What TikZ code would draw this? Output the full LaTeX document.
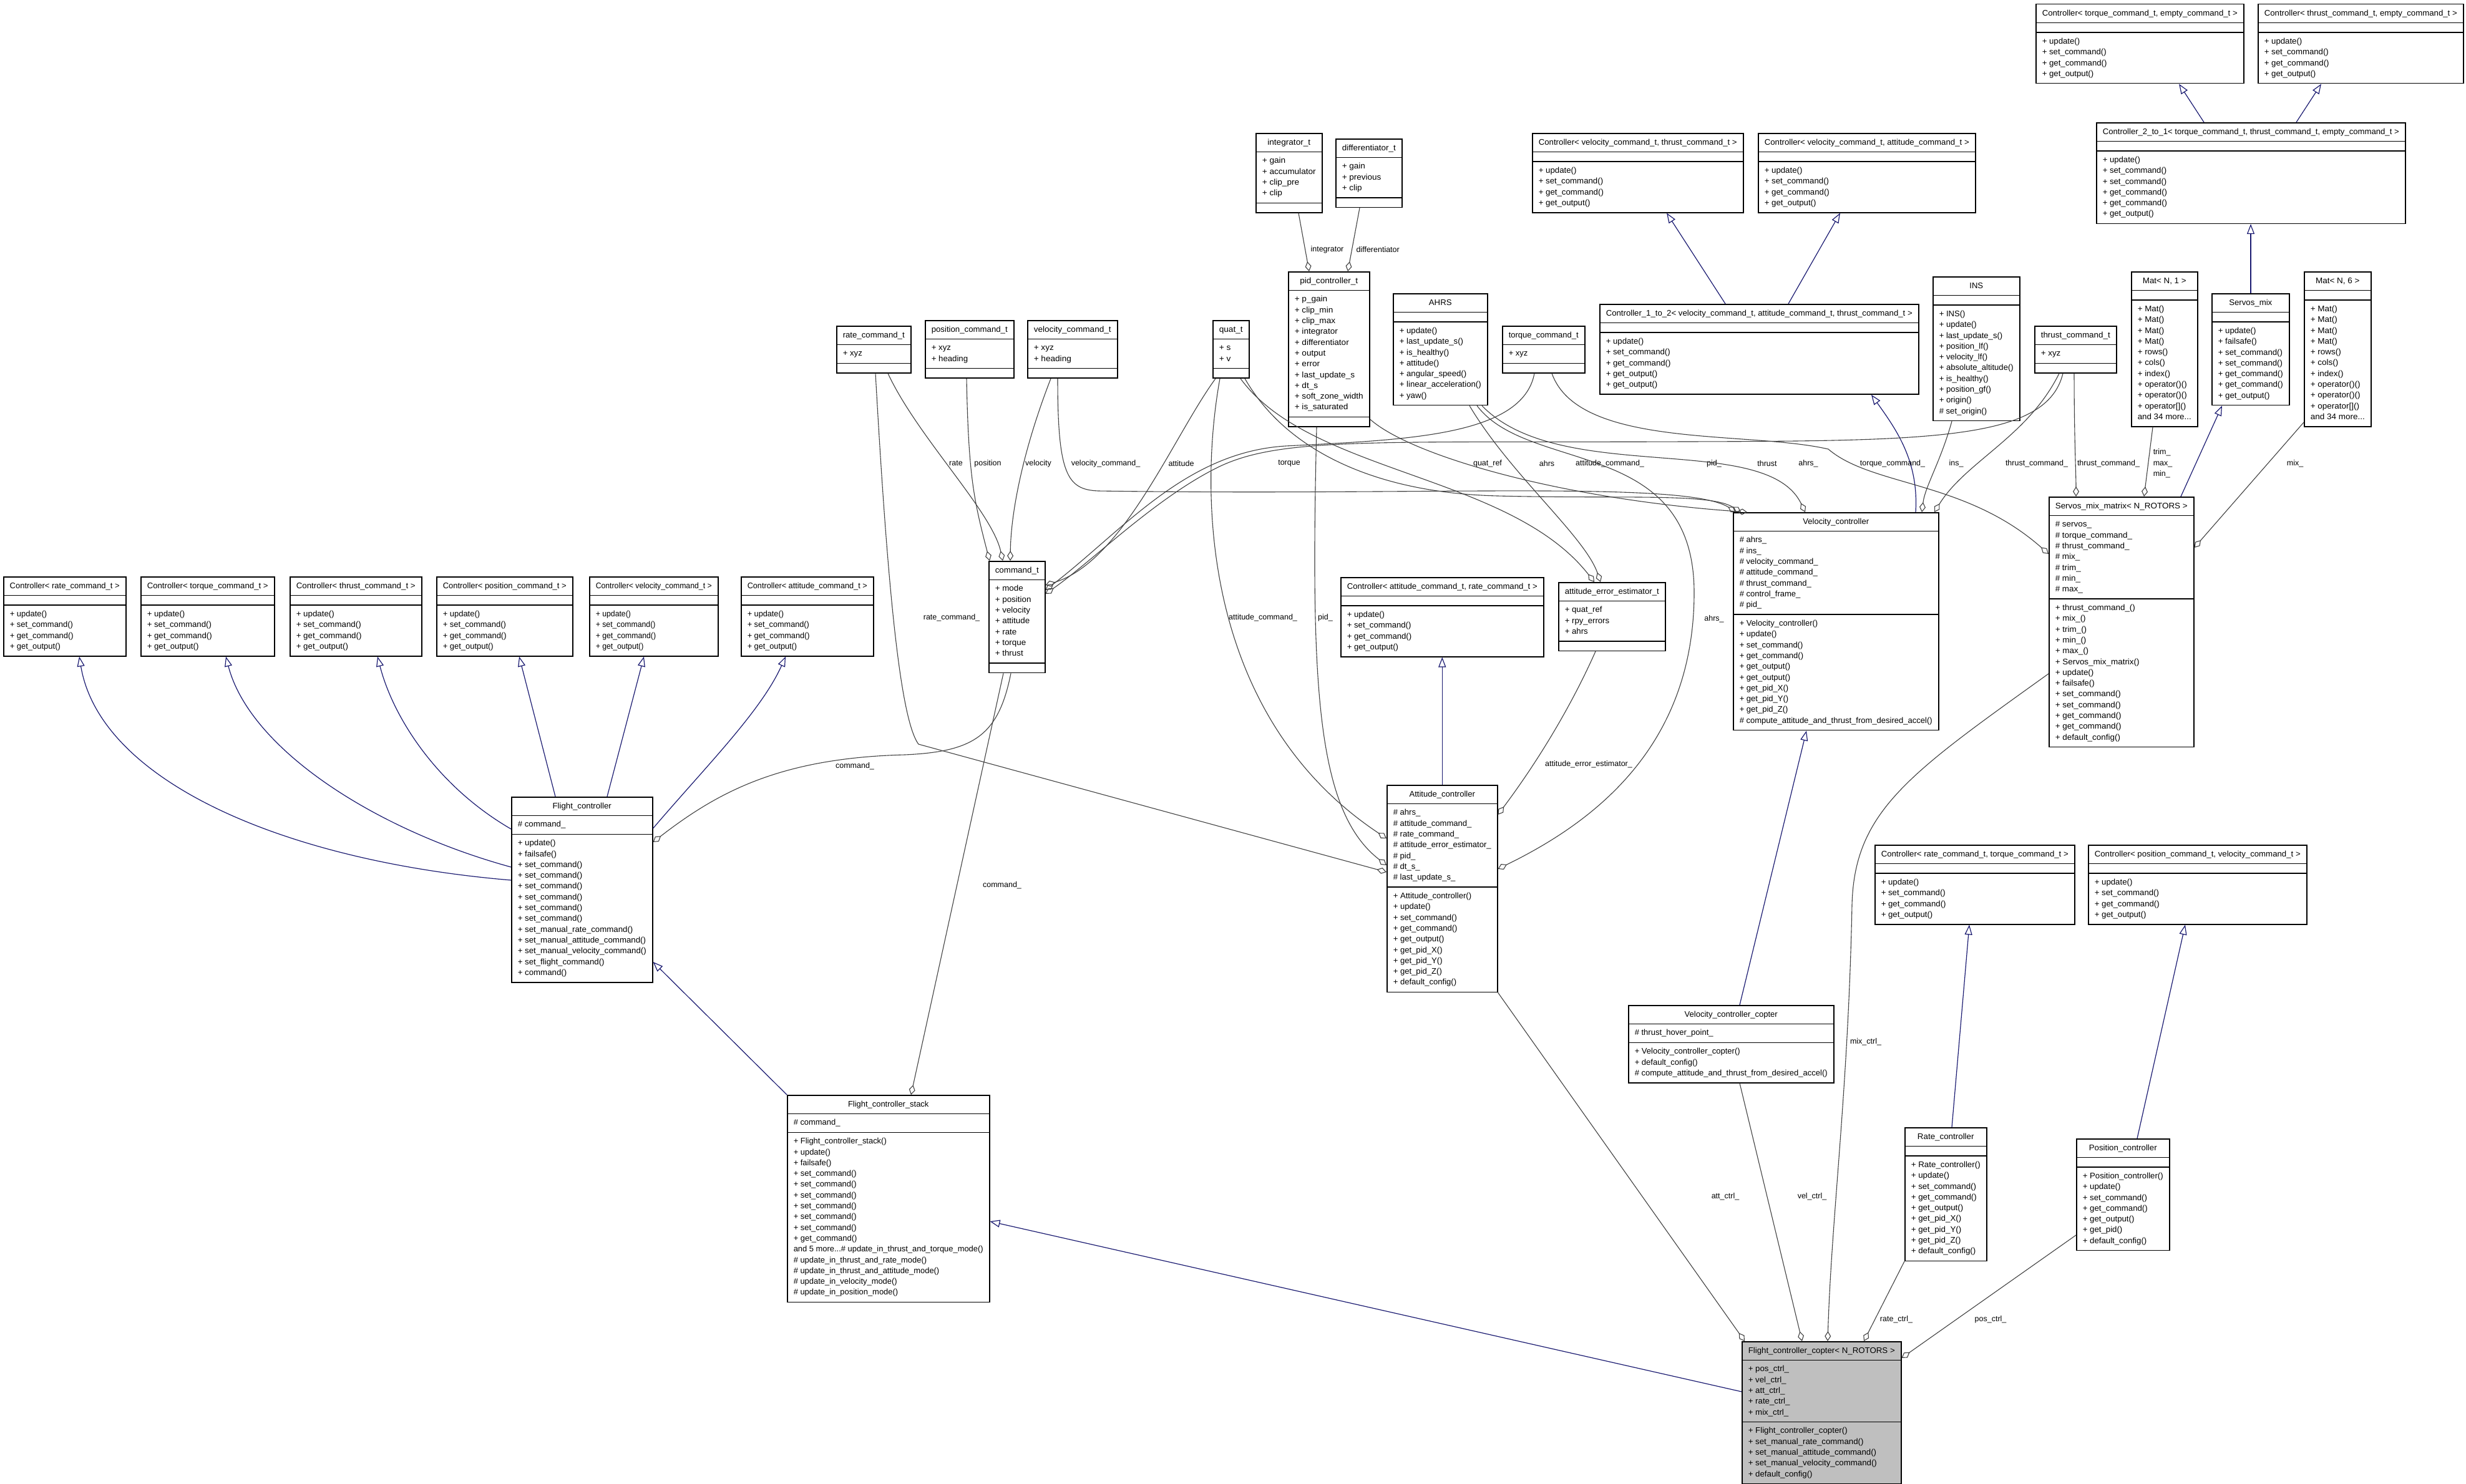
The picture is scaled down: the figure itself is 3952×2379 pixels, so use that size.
\documentclass[tikz,border=0pt]{standalone}
\usepackage{fontspec,graphicx}
\usetikzlibrary{arrows.meta,shapes.multipart}
\newfontfamily\dxfont{Liberation Sans}
\definecolor{dxblue}{HTML}{191970}
\definecolor{dxgray}{HTML}{404040}
\definecolor{dxfill}{HTML}{BFBFBF}
\newcommand\clsfont{\dxfont\fontsize{13}{17.3}\selectfont}
\newcommand\lblfont{\dxfont\fontsize{12.5}{17.5}\selectfont}
\renewcommand\arraystretch{1}
\newlength\clsw
% squeeze factor of one box, measured inside the node
\newcommand\clsfit[2]{%
  \setbox0\hbox{\begin{tabular}{@{}l@{}}#2\end{tabular}}%
  \global\clsw=\wd0
  \pgfmathsetmacro\clstmp{min(1.1,(#1-20)/max(\clsw,20))}%
  \global\let\clssx\clstmp}
% one compartment of a class box
\newcommand\clspart[3]{\makebox[#1pt][#2]{\hspace*{10pt}\scalebox{\clssx}[1]{\begin{tabular}{@{}#2@{}}#3\end{tabular}}\hspace*{10pt}}}
% [style]{name}{x}{y}{width}{title}{attributes}{methods}
\newcommand\cls[8][]{%
  \node[cls,#1] (#2) at (#3,#4)
    {\clsfit{#5}{#6\\#7\\#8}\clspart{#5}{c}{#6}\nodepart{two}\clspart{#5}{l}{#7}\nodepart{three}\clspart{#5}{l}{#8}};}
\begin{document}
\catcode`\_=12
\begin{tikzpicture}[x=1pt,y=-1pt,
  cls/.style={rectangle split,rectangle split parts=3,draw=black,line width=1.5pt,
    fill=white,inner xsep=0pt,inner ysep=5.5pt,font=\clsfont,anchor=north west},
  inh/.style={draw=dxblue,line width=1.2pt,-{Triangle[open,length=16pt,width=12pt]}},
  agg/.style={draw=dxgray,line width=1.1pt,-{Diamond[open,length=16pt,width=10pt]}},
  lbl/.style={font=\lblfont,inner sep=1pt,align=left}]
\useasboundingbox (0,0) rectangle (3952,2379);
\def\ctlm{+ update()\\+ set_command()\\+ get_command()\\+ get_output()}
% template bases
\cls{crate}{5}{924}{196}{Controller< rate_command_t >}{}{\ctlm}
\cls{ctorq}{225}{924}{214}{Controller< torque_command_t >}{}{\ctlm}
\cls{cthr}{464}{924}{211}{Controller< thrust_command_t >}{}{\ctlm}
\cls{cpos}{699}{924}{218}{Controller< position_command_t >}{}{\ctlm}
\cls{cvel}{944}{924}{206}{Controller< velocity_command_t >}{}{\ctlm}
\cls{catt}{1187}{924}{212}{Controller< attitude_command_t >}{}{\ctlm}
\cls{ctorqempty}{3262}{6}{333}{Controller< torque_command_t, empty_command_t >}{}{\ctlm}
\cls{cthrempty}{3618}{6}{329}{Controller< thrust_command_t, empty_command_t >}{}{\ctlm}
\cls{ctwo}{3359}{196}{495}{Controller_2_to_1< torque_command_t, thrust_command_t, empty_command_t >}{}
  {+ update()\\+ set_command()\\+ set_command()\\+ get_command()\\+ get_command()\\+ get_output()}
\cls{cvelthr}{2455}{213}{338}{Controller< velocity_command_t, thrust_command_t >}{}{\ctlm}
\cls{cvelatt}{2817}{213}{348}{Controller< velocity_command_t, attitude_command_t >}{}{\ctlm}
\cls{cone}{2563}{487}{511}{Controller_1_to_2< velocity_command_t, attitude_command_t, thrust_command_t >}{}
  {+ update()\\+ set_command()\\+ get_command()\\+ get_output()\\+ get_output()}
\cls{cattrate}{2148}{925}{325}{Controller< attitude_command_t, rate_command_t >}{}{\ctlm}
\cls{cratetorq}{3004}{1354}{320}{Controller< rate_command_t, torque_command_t >}{}{\ctlm}
\cls{cposvel}{3346}{1354}{350}{Controller< position_command_t, velocity_command_t >}{}{\ctlm}
% plain data types
\cls{ratecmd}{1340}{522}{119}{rate_command_t}{+ xyz}{}
\cls{poscmd}{1482}{513}{142}{position_command_t}{+ xyz\\+ heading}{}
\cls{velcmd}{1646}{513}{144}{velocity_command_t}{+ xyz\\+ heading}{}
\cls{quat}{1943}{513}{58}{quat_t}{+ s\\+ v}{}
\cls{integ}{2012}{213}{106}{integrator_t}{+ gain\\+ accumulator\\+ clip_pre\\+ clip}{}
\cls{diff}{2140}{222}{106}{differentiator_t}{+ gain\\+ previous\\+ clip}{}
\cls{pid}{2064}{435}{130}{pid_controller_t}{+ p_gain\\+ clip_min\\+ clip_max\\+ integrator\\+ differentiator\\+ output\\+ error\\+ last_update_s\\+ dt_s\\+ soft_zone_width\\+ is_saturated}{}
\cls{ahrs}{2232}{470}{151}{AHRS}{}{+ update()\\+ last_update_s()\\+ is_healthy()\\+ attitude()\\+ angular_speed()\\+ linear_acceleration()\\+ yaw()}
\cls{torqcmd}{2407}{522}{132}{torque_command_t}{+ xyz}{}
\cls{ins}{3097}{443}{139}{INS}{}{+ INS()\\+ update()\\+ last_update_s()\\+ position_lf()\\+ velocity_lf()\\+ absolute_altitude()\\+ is_healthy()\\+ position_gf()\\+ origin()\\\# set_origin()}
\cls{thrcmd}{3260}{522}{131}{thrust_command_t}{+ xyz}{}
\cls{matone}{3415}{435}{106}{Mat< N, 1 >}{}{+ Mat()\\+ Mat()\\+ Mat()\\+ Mat()\\+ rows()\\+ cols()\\+ index()\\+ operator()()\\+ operator()()\\+ operator[]()\\and 34 more...}
\cls{smix}{3544}{470}{124}{Servos_mix}{}{+ update()\\+ failsafe()\\+ set_command()\\+ set_command()\\+ get_command()\\+ get_command()\\+ get_output()}
\cls{matsix}{3692}{435}{107}{Mat< N, 6 >}{}{+ Mat()\\+ Mat()\\+ Mat()\\+ Mat()\\+ rows()\\+ cols()\\+ index()\\+ operator()()\\+ operator()()\\+ operator[]()\\and 34 more...}
\cls{cmdt}{1584}{899}{90}{command_t}{+ mode\\+ position\\+ velocity\\+ attitude\\+ rate\\+ torque\\+ thrust}{}
\cls{aee}{2497}{933}{171}{attitude_error_estimator_t}{+ quat_ref\\+ rpy_errors\\+ ahrs}{}
% controllers
\cls{velctl}{2777}{821}{329}{Velocity_controller}
  {\# ahrs_\\\# ins_\\\# velocity_command_\\\# attitude_command_\\\# thrust_command_\\\# control_frame_\\\# pid_}
  {+ Velocity_controller()\\+ update()\\+ set_command()\\+ get_command()\\+ get_output()\\+ get_output()\\+ get_pid_X()\\+ get_pid_Y()\\+ get_pid_Z()\\\# compute_attitude_and_thrust_from_desired_accel()}
\cls{smm}{3283}{796}{232}{Servos_mix_matrix< N_ROTORS >}
  {\# servos_\\\# torque_command_\\\# thrust_command_\\\# mix_\\\# trim_\\\# min_\\\# max_}
  {+ thrust_command_()\\+ mix_()\\+ trim_()\\+ min_()\\+ max_()\\+ Servos_mix_matrix()\\+ update()\\+ failsafe()\\+ set_command()\\+ set_command()\\+ get_command()\\+ get_command()\\+ default_config()}
\cls{attctl}{2222}{1258}{177}{Attitude_controller}
  {\# ahrs_\\\# attitude_command_\\\# rate_command_\\\# attitude_error_estimator_\\\# pid_\\\# dt_s_\\\# last_update_s_}
  {+ Attitude_controller()\\+ update()\\+ set_command()\\+ get_command()\\+ get_output()\\+ get_pid_X()\\+ get_pid_Y()\\+ get_pid_Z()\\+ default_config()}
\cls{fc}{819}{1277}{226}{Flight_controller}{\# command_}
  {+ update()\\+ failsafe()\\+ set_command()\\+ set_command()\\+ set_command()\\+ set_command()\\+ set_command()\\+ set_command()\\+ set_manual_rate_command()\\+ set_manual_attitude_command()\\+ set_manual_velocity_command()\\+ set_flight_command()\\+ command()}
\cls{velcop}{2609}{1611}{329}{Velocity_controller_copter}{\# thrust_hover_point_}
  {+ Velocity_controller_copter()\\+ default_config()\\\# compute_attitude_and_thrust_from_desired_accel()}
\cls{ratectl}{3052}{1807}{131}{Rate_controller}{}
  {+ Rate_controller()\\+ update()\\+ set_command()\\+ get_command()\\+ get_output()\\+ get_pid_X()\\+ get_pid_Y()\\+ get_pid_Z()\\+ default_config()}
\cls{posctl}{3327}{1825}{149}{Position_controller}{}
  {+ Position_controller()\\+ update()\\+ set_command()\\+ get_command()\\+ get_output()\\+ get_pid()\\+ default_config()}
\cls{fcs}{1261}{1755}{324}{Flight_controller_stack}{\# command_}
  {+ Flight_controller_stack()\\+ update()\\+ failsafe()\\+ set_command()\\+ set_command()\\+ set_command()\\+ set_command()\\+ set_command()\\+ set_command()\\+ get_command()\\and 5 more...\# update_in_thrust_and_torque_mode()\\\# update_in_thrust_and_rate_mode()\\\# update_in_thrust_and_attitude_mode()\\\# update_in_velocity_mode()\\\# update_in_position_mode()}
\cls[fill=dxfill]{fcc}{2791}{2150}{255}{Flight_controller_copter< N_ROTORS >}
  {+ pos_ctrl_\\+ vel_ctrl_\\+ att_ctrl_\\+ rate_ctrl_\\+ mix_ctrl_}
  {+ Flight_controller_copter()\\+ set_manual_rate_command()\\+ set_manual_attitude_command()\\+ set_manual_velocity_command()\\+ default_config()}
% inheritance
\draw[inh] (3532,0 |- ctwo.north) -- (3492,0 |- ctorqempty.south);
\draw[inh] (3680,0 |- ctwo.north) -- (3720,0 |- cthrempty.south);
\draw[inh] (3607,0 |- smix.north) -- (3607,0 |- ctwo.south);
\draw[inh] (3495,0 |- smm.north) -- (3561,0 |- smix.south);
\draw[inh] (2765,0 |- cone.north) -- (2671,0 |- cvelthr.south);
\draw[inh] (2866,0 |- cone.north) -- (2949,0 |- cvelatt.south);
\draw[inh] (3070,0 |- velctl.north) .. controls (3075,740) and (3040,690) .. (2999,0 |- cone.south);
\draw[inh] (2788,0 |- velcop.north) -- (2895,0 |- velctl.south);
\draw[inh] (3128,0 |- ratectl.north) -- (3156,0 |- cratetorq.south);
\draw[inh] (3425,0 |- posctl.north) -- (3502,0 |- cposvel.south);
\draw[inh] (attctl.north) -- (attctl.north |- cattrate.south);
\draw[inh] (fcc.west |- 0,2231) -- (fcs.east |- 0,1958);
\draw[inh] (fcs.north west) -- (fc.east |- 0,1542);
\draw[inh] (890,0 |- fc.north) -- (832,0 |- cpos.south);
\draw[inh] (973,0 |- fc.north) -- (1032,0 |- cvel.south);
\draw[inh] (fc.east |- 0,1328) .. controls (1130,1230) and (1220,1140) .. (1259,0 |- catt.south);
\draw[inh] (fc.west |- 0,1329) .. controls (700,1260) and (630,1150) .. (605,0 |- cthr.south);
\draw[inh] (fc.west |- 0,1390) .. controls (600,1330) and (400,1200) .. (362,0 |- ctorq.south);
\draw[inh] (fc.west |- 0,1411) .. controls (450,1380) and (160,1250) .. (127,0 |- crate.south);
% members
\draw[agg] (2081,0 |- integ.south) -- (2098,0 |- pid.north) node[lbl,anchor=west] (lint) at (2099,400) {integrator};
\draw[agg] (2179,0 |- diff.south) -- (2160,0 |- pid.north) node[lbl,anchor=west] (ldif) at (2172,400) {differentiator};
\draw[agg] (1423,0 |- ratecmd.south) .. controls (1470,700) and (1590,820) .. (1607,0 |- cmdt.north) node[lbl] (lrate) at (1532,743) {rate};
\draw[agg] (1549,0 |- poscmd.south) .. controls (1552,760) and (1560,800) .. (1586,0 |- cmdt.north) node[lbl] (lpos) at (1583,743) {position};
\draw[agg] (1684,0 |- velcmd.south) .. controls (1640,720) and (1620,820) .. (1619,0 |- cmdt.north) node[lbl] (lvel) at (1664,743) {velocity};
\draw[agg] (1695,0 |- velcmd.south) .. controls (1695,760) and (1710,785) .. (1760,787) .. controls (2300,795) and (2700,770) .. (2783,0 |- velctl.north) node[lbl] (lvcmd) at (1772,743) {velocity_command_};
\draw[agg] (1948,0 |- quat.south) .. controls (1880,700) and (1800,900) .. (cmdt.east |- 0,938) node[lbl] (latt) at (1893,743) {attitude};
\draw[agg] (2459,0 |- torqcmd.south) .. controls (2440,700) and (2250,705) .. (2060,715) .. controls (1900,725) and (1800,850) .. (cmdt.east |- 0,946) node[lbl] (ltorq) at (2066,743) {torque};
\draw[agg] (3306,0 |- thrcmd.south) .. controls (3280,705) and (3100,707) .. (2700,708) .. controls (2200,710) and (2050,700) .. (1950,750) .. controls (1850,800) and (1750,900) .. (cmdt.east |- 0,952) node[lbl] (lthr) at (2832,743) {thrust};
\draw[agg] (1995,0 |- quat.south) .. controls (2060,720) and (2200,790) .. (2400,795) .. controls (2600,800) and (2740,790) .. (2790,0 |- velctl.north) node[lbl] (lacmd) at (2580,743) {attitude_command_};
\draw[agg] (pid.east |- 0,672) .. controls (2260,730) and (2500,800) .. (2800,0 |- velctl.north) node[lbl] (lpid) at (2747,743) {pid_};
\draw[agg] (2375,0 |- ahrs.south) .. controls (2500,780) and (2830,690) .. (2893,0 |- velctl.north) node[lbl] (lvahrs) at (2898,743) {ahrs_};
\draw[agg] (3128,0 |- ins.south) .. controls (3110,740) and (3085,780) .. (3080,0 |- velctl.north) node[lbl] (lins) at (3135,743) {ins_};
\draw[agg] (3300,0 |- thrcmd.south) .. controls (3250,700) and (3150,740) .. (3100,0 |- velctl.north) node[lbl] (lvthr) at (3264,743) {thrust_command_};
\draw[agg] (3324,0 |- thrcmd.south) .. controls (3324,700) and (3327,760) .. (3327,0 |- smm.north) node[lbl] (lsthr) at (3379,743) {thrust_command_};
\draw[agg] (3450,0 |- matone.south) -- (3436,0 |- smm.north) node[lbl] (ltrim) at (3466,743) {trim_\\max_\\min_};
\draw[agg] (2487,0 |- torqcmd.south) .. controls (2530,720) and (2800,690) .. (2930,720) .. controls (3000,780) and (3150,770) .. (smm.west |- 0,888) node[lbl] (lstorq) at (3033,743) {torque_command_};
\draw[agg] (matsix.west |- 0,677) -- (smm.east |- 0,878) node[lbl] (lmix) at (3678,743) {mix_};
\draw[agg] (2355,0 |- ahrs.south) .. controls (2420,760) and (2540,860) .. (2565,0 |- aee.north) node[lbl] (lahrs) at (2479,743) {ahrs};
\draw[agg] (1988,0 |- quat.south) .. controls (2100,760) and (2420,760) .. (2555,0 |- aee.north) node[lbl] (lqref) at (2384,743) {quat_ref};
\draw[agg] (2557,0 |- aee.south) .. controls (2510,1150) and (2450,1240) .. (attctl.east |- 0,1306) node[lbl] (laee) at (2546,1225) {attitude_error_estimator_};
\draw[agg] (2367,0 |- ahrs.south) .. controls (2450,760) and (2715,700) .. (2715,950) .. controls (2715,1200) and (2550,1320) .. (attctl.east |- 0,1393) node[lbl] (laahrs) at (2747,992) {ahrs_};
\draw[agg] (1955,0 |- quat.south) .. controls (1920,800) and (1930,1150) .. (attctl.west |- 0,1344) node[lbl] (lacmd2) at (2024,990) {attitude_command_};
\draw[agg] (2110,0 |- pid.south) .. controls (2100,1100) and (2110,1300) .. (attctl.west |- 0,1387) node[lbl] (lpid2) at (2124,990) {pid_};
\draw[agg] (1403,0 |- ratecmd.south) .. controls (1420,900) and (1440,1150) .. (1472,1193) -- (attctl.west |- 0,1398) node[lbl] (lrcmd) at (1525,990) {rate_command_};
\draw[agg] (1620,0 |- cmdt.south) .. controls (1600,1180) and (1560,1205) .. (1450,1210) .. controls (1250,1215) and (1150,1270) .. (fc.east |- 0,1350) node[lbl] (lcmd) at (1370,1228) {command_};
\draw[agg] (1608,0 |- cmdt.south) -- (1460,0 |- fcs.north) node[lbl] (lcmd2) at (1606,1419) {command_};
\draw[agg] (smm.west |- 0,1080) .. controls (3060,1240) and (2972,1300) .. (2968,1450) .. controls (2962,1750) and (2935,1950) .. (2929,0 |- fcc.north) node[lbl] (lmixc) at (2990,1670) {mix_ctrl_};
\draw[agg] (2788,0 |- velcop.south) -- (2888,0 |- fcc.north) node[lbl] (lvelc) at (2904,1918) {vel_ctrl_};
\draw[agg] (attctl.south east) -- (2796,0 |- fcc.north) node[lbl] (lattc) at (2765,1918) {att_ctrl_};
\draw[agg] (ratectl.south west) -- (2987,0 |- fcc.north) node[lbl] (lratec) at (3039,2115) {rate_ctrl_};
\draw[agg] (posctl.west |- 0,1980) -- (fcc.east |- 0,2177) node[lbl] (lposc) at (3190,2115) {pos_ctrl_};
\end{tikzpicture}
\end{document}
